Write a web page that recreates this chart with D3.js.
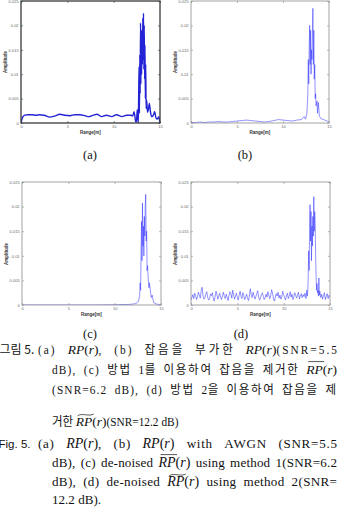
<!DOCTYPE html>
<html>
<head>
<meta charset="utf-8">
<script src="https://cdn.jsdelivr.net/npm/d3@7"></script>
<style>
  html, body { margin: 0; padding: 0; background: #fff; overflow: hidden; }
  svg { display: block; }
</style>
</head>
<body>
<div id="chart"></div>
<script>
/* Axis ticks (shared by the four panels) */
var xTicks = [0, 5, 10, 15];
var xTickLabels = ['0', '5', '10', '15'];
var yTicks = [0, 0.005, 0.01, 0.015, 0.02, 0.025];
var yTickLabels = ['0', '0.005', '0.01', '0.015', '0.02', '0.025'];

/* (a) RP(r) */
var rangeA = [0, 0.15, 0.4, 0.8, 1.2, 1.6, 2.0, 2.5, 3.1, 3.6,
  4.2, 4.7, 5.3, 5.8, 6.4, 6.9, 7.3, 7.8, 8.2, 8.7,
  9.2, 9.8, 10.3, 10.9, 11.4, 11.9, 12.05, 12.2, 12.38, 12.45,
  12.55, 12.62, 12.66, 12.70, 12.74, 12.78, 12.82, 12.86, 12.90, 12.94,
  12.98, 13.02, 13.06, 13.10, 13.14, 13.18, 13.22, 13.26, 13.30, 13.34,
  13.38, 13.42, 13.46, 13.50, 13.56, 13.65, 13.74, 13.85, 13.99, 14.14,
  14.28, 14.42, 14.57, 14.71, 14.86, 15.0];
var ampA = [0, 0.0011, 0.0016, 0.0017, 0.0017, 0.0016, 0.0017, 0.0016, 0.0012, 0.0014,
  0.0018, 0.0016, 0.0015, 0.0017, 0.0017, 0.0015, 0.0013, 0.0016, 0.0018, 0.0013,
  0.0016, 0.0013, 0.0017, 0.0013, 0.0016, 0.0016, 0.0014, 0.0023, 0.0003, 0.0002,
  0.0027, 0.0010, 0.0000, 0.0060, 0.0115, 0.0020, 0.0140, 0.0060, 0.0205, 0.0080,
  0.0190, 0.0100, 0.0175, 0.0120, 0.0215, 0.0130, 0.0225, 0.0110, 0.0200, 0.0090,
  0.0160, 0.0050, 0.0120, 0.0030, 0.0047, 0.0022, 0.0027, 0.0040, 0.0020, 0.0013,
  0.0016, 0.0023, 0.0010, 0.0008, 0.0013, 0.0000];

/* (b) */
var rangeB = [0, 0.5, 1.0, 1.5, 2.0, 2.5, 3.0, 3.5, 4.0, 4.5,
  5.0, 5.5, 6.0, 6.5, 7.0, 7.5, 8.0, 8.5, 9.0, 9.5,
  10.0, 10.5, 11.0, 11.5, 12.0, 12.3, 12.45, 12.6, 12.7, 12.75,
  12.8, 12.85, 12.9, 12.95, 13.0, 13.05, 13.1, 13.15, 13.2, 13.25,
  13.3, 13.35, 13.4, 13.45, 13.5, 13.55, 13.6, 13.7, 13.75, 13.85,
  13.95, 14.1, 14.4, 14.7, 14.9, 15.0];
var ampB = [0.0001, 0.0001, 0.0002, 0.0001, 0.0002, 0.0002, 0.0003, 0.0002, 0.0002, 0.0003,
  0.0004, 0.0005, 0.0006, 0.0005, 0.0004, 0.0003, 0.0002, 0.0003, 0.0005, 0.0007,
  0.0006, 0.0005, 0.0004, 0.0006, 0.0007, 0.0013, 0.0008, 0.0020, 0.0060, 0.0130,
  0.0080, 0.0160, 0.0200, 0.0120, 0.0190, 0.0100, 0.0150, 0.0130, 0.0190, 0.0235,
  0.0120, 0.0190, 0.0090, 0.0120, 0.0050, 0.0060, 0.0035, 0.0045, 0.0020, 0.0042,
  0.0015, 0.0009, 0.0007, 0.0005, 0.0003, 0.0002];

/* (c) */
var rangeC = [0, 2, 4, 6, 8, 10, 11.0, 11.5, 12.0, 12.3,
  12.5, 12.6, 12.7, 12.75, 12.8, 12.85, 12.9, 12.95, 13.0, 13.05,
  13.1, 13.15, 13.2, 13.25, 13.3, 13.35, 13.4, 13.45, 13.5, 13.55,
  13.6, 13.7, 13.75, 13.85, 13.95, 14.05, 14.2, 14.5, 14.8, 15.0];
var ampC = [0, 0, 0, 0, 0, 0.00005, 0.0001, 0.0001, 0.0002, 0.0003,
  0.0006, 0.0010, 0.0020, 0.0045, 0.0030, 0.0110, 0.0170, 0.0090, 0.0207, 0.0120,
  0.0160, 0.0100, 0.0180, 0.0140, 0.0200, 0.0225, 0.0130, 0.0150, 0.0070, 0.0080,
  0.0060, 0.0035, 0.0045, 0.0030, 0.0015, 0.0020, 0.0005, 0.0002, 0.0001, 0];

/* (d) noisy: baseline sampled every 0.1 m from 0 to 12.4 m */
var stepD = 0.1;
var noiseD = [0.0009, 0.0016, 0.0021, 0.0013, 0.0024, 0.0019, 0.0011, 0.0017, 0.0026, 0.0020,
  0.0014, 0.0029, 0.0036, 0.0018, 0.0012, 0.0015, 0.0023, 0.0027, 0.0016, 0.0010,
  0.0013, 0.0022, 0.0019, 0.0025, 0.0014, 0.0008, 0.0017, 0.0028, 0.0021, 0.0012,
  0.0018, 0.0024, 0.0015, 0.0011, 0.0020, 0.0026, 0.0017, 0.0013, 0.0022, 0.0016,
  0.0009, 0.0019, 0.0027, 0.0023, 0.0014, 0.0030, 0.0021, 0.0012, 0.0018, 0.0024,
  0.0015, 0.0010, 0.0020, 0.0028, 0.0017, 0.0013, 0.0025, 0.0019, 0.0011, 0.0016,
  0.0022, 0.0014, 0.0009, 0.0018, 0.0033, 0.0021, 0.0015, 0.0026, 0.0019, 0.0012,
  0.0017, 0.0023, 0.0029, 0.0016, 0.0010, 0.0014, 0.0021, 0.0025, 0.0018, 0.0011,
  0.0015, 0.0022, 0.0016, 0.0027, 0.0020, 0.0013, 0.0019, 0.0031, 0.0024, 0.0012,
  0.0008, 0.0016, 0.0023, 0.0018, 0.0026, 0.0014, 0.0020, 0.0012, 0.0017, 0.0028,
  0.0021, 0.0015, 0.0010, 0.0019, 0.0024, 0.0013, 0.0018, 0.0027, 0.0016, 0.0022,
  0.0011, 0.0017, 0.0025, 0.0019, 0.0014, 0.0020, 0.0026, 0.0012, 0.0018, 0.0023,
  0.0015, 0.0021, 0.0017, 0.0024, 0.0013];
var peakRangeD = [12.5, 12.55, 12.6, 12.65, 12.7, 12.75, 12.8, 12.85, 12.9, 12.95,
  13.0, 13.05, 13.1, 13.15, 13.2, 13.25, 13.3, 13.35, 13.4, 13.45,
  13.5, 13.55, 13.6, 13.65, 13.7, 13.75, 13.8, 13.85, 13.9];
var peakAmpD = [0.0030, 0.0018, 0.0026, 0.0060, 0.0110, 0.0070, 0.0160, 0.0204, 0.0130, 0.0190,
  0.0090, 0.0160, 0.0120, 0.0180, 0.0140, 0.0220, 0.0150, 0.0190, 0.0166, 0.0100,
  0.0060, 0.0030, 0.0044, 0.0025, 0.0030, 0.0018, 0.0055, 0.0020, 0.0028];
/* tail, every 0.1 m from 14.0 to 15.0 m */
var tailStartD = 14.0;
var tailD = [0.0015, 0.0022, 0.0012, 0.0019, 0.0025, 0.0011, 0.0018, 0.0023, 0.0013, 0.0020, 0.0016];

var rangeD = noiseD.map(function (v, i) { return i * stepD; })
  .concat(peakRangeD)
  .concat(tailD.map(function (v, i) { return tailStartD + i * stepD; }));
var ampD = noiseD.concat(peakAmpD).concat(tailD);

/* ------------------------------------------------------------------ */

var W = 339, H = 515;
var svg = d3.select('#chart').append('svg').attr('width', W).attr('height', H);

var panels = [
  { id: 'a', left: 21, right: 160, top: 1, bottom: 123, labelY: 62, r: rangeA, v: ampA, thick: true, cap: '(a)', capX: 90, capY: 158.5 },
  { id: 'b', left: 191, right: 329, top: 1, bottom: 123, labelY: 62, r: rangeB, v: ampB, cap: '(b)', capX: 245, capY: 158.5 },
  { id: 'c', left: 22, right: 161, top: 182, bottom: 305, labelY: 254, r: rangeC, v: ampC, cap: '(c)', capX: 90, capY: 338 },
  { id: 'd', left: 191, right: 330, top: 182, bottom: 305, labelY: 254, r: rangeD, v: ampD, cap: '(d)', capX: 241, capY: 338 }
];

panels.forEach(drawPanel);

function drawPanel(p) {
  var x = d3.scaleLinear().domain([0, 15]).range([p.left, p.right]);
  var y = d3.scaleLinear().domain([0, 0.025]).range([p.bottom, p.top]);
  var frame = p.thick ? '#3a3a3a' : '#8c8c8c';
  var g = svg.append('g').attr('class', 'panel-' + p.id);

  g.append('clipPath').attr('id', 'clip-' + p.id)
    .append('rect')
    .attr('x', p.left).attr('y', p.top)
    .attr('width', p.right - p.left).attr('height', p.bottom - p.top);

  var line = d3.line()
    .x(function (d, i) { return x(p.r[i]); })
    .y(function (d) { return y(d); })
    .curve(p.thick ? d3.curveMonotoneX : d3.curveLinear);

  g.append('path')
    .datum(p.v)
    .attr('clip-path', 'url(#clip-' + p.id + ')')
    .attr('d', line)
    .attr('fill', 'none')
    .attr('stroke', p.thick ? '#2424d6' : '#2f2fff')
    .attr('stroke-opacity', p.thick ? 1 : 0.8)
    .attr('stroke-width', p.thick ? 1.4 : 0.65)
    .attr('stroke-linejoin', 'round');

  /* MATLAB style inward ticks on all four sides */
  var axes = [
    { a: d3.axisBottom(x).tickValues(xTicks).tickFormat(function (d, i) { return xTickLabels[i]; }), t: 'translate(0,' + p.bottom + ')' },
    { a: d3.axisTop(x).tickValues(xTicks).tickFormat(''), t: 'translate(0,' + p.top + ')' },
    { a: d3.axisLeft(y).tickValues(yTicks).tickFormat(function (d, i) { return yTickLabels[i]; }), t: 'translate(' + p.left + ',0)' },
    { a: d3.axisRight(y).tickValues(yTicks).tickFormat(''), t: 'translate(' + p.right + ',0)' }
  ];
  axes.forEach(function (ax) {
    var ag = g.append('g')
      .attr('transform', ax.t)
      .call(ax.a.tickSize(-2).tickPadding(2.4));
    ag.select('.domain').remove();
    ag.attr('font-size', null).attr('font-family', null);
    ag.selectAll('.tick line').attr('stroke', frame).attr('stroke-width', 0.6);
    ag.selectAll('.tick text')
      .attr('fill', '#666')
      .attr('font-size', '4px')
      .attr('font-family', '"Liberation Sans", Arial, sans-serif');
  });

  g.append('rect')
    .attr('x', p.left).attr('y', p.top)
    .attr('width', p.right - p.left).attr('height', p.bottom - p.top)
    .attr('fill', 'none')
    .attr('stroke', frame)
    .attr('stroke-width', p.thick ? 1.3 : 0.8);

  g.append('text')
    .attr('transform', 'translate(' + (p.left - 16) + ',' + p.labelY + ') rotate(-90)')
    .attr('text-anchor', 'middle')
    .attr('dy', '0.35em')
    .attr('font-family', '"Liberation Sans", Arial, sans-serif')
    .attr('font-size', '4.5px')
    .attr('font-weight', 'bold')
    .attr('fill', '#333')
    .text('Amplitude');

  g.append('text')
    .attr('x', (p.left + p.right) / 2)
    .attr('y', p.bottom + 11)
    .attr('text-anchor', 'middle')
    .attr('font-family', '"Liberation Sans", Arial, sans-serif')
    .attr('font-size', '4.5px')
    .attr('font-weight', 'bold')
    .attr('fill', '#333')
    .text('Range[m]');

  svg.append('text')
    .attr('x', p.capX).attr('y', p.capY)
    .attr('text-anchor', 'middle')
    .attr('font-family', '"Liberation Serif", "Times New Roman", serif')
    .attr('font-size', '12.5px')
    .attr('fill', '#111')
    .text(p.cap);
}

/* ------------------------------------------------------------------ */
/* Figure caption (Korean + English), justified like the printed page.
   Korean lines use a narrower Latin face than the English lines.       */

var capFont = {
  hko: { family: '"Noto Sans CJK KR", sans-serif', size: 12, sx: 1 },
  hen: { family: '"Liberation Sans", Arial, sans-serif', size: 11.5, sx: 1 },
  ko:  { family: '"Noto Sans CJK KR", sans-serif', size: 12.5, sx: 0.92, gap: 0.3 },
  rk:  { family: '"Liberation Serif", serif', size: 13.5, sx: 0.84, gap: 0.2 },
  itk: { family: '"Liberation Serif", serif', size: 13.5, sx: 1, style: 'italic' },
  upk: { family: '"Liberation Serif", serif', size: 13.5, sx: 1 },
  rm:  { family: '"Liberation Serif", serif', size: 13.5, sx: 0.97, gap: 0.08 },
  it:  { family: '"Liberation Serif", serif', size: 14, sx: 1, style: 'italic' },
  up:  { family: '"Liberation Serif", serif', size: 14, sx: 1 }
};
var FONT_SWITCH_PAD = 0.6;   /* small gap where two faces meet without a space */

function rp(acc, k) {
  var it = k ? 'itk' : 'it', up = k ? 'upk' : 'up';
  return [['RP', it, acc], ['(', up], ['r', it], [')', up]];
}

var capLines = [
  { x0: -0.5, y: 354, segs: [['그림 5.', 'hko']] },
  { x0: 38, x1: 337, y: 354, justify: true, segs: [['(a) ', 'rk']].concat(rp(null, 1), [[', (b) ', 'rk'], ['잡음을 부가한 ', 'ko']], rp(null, 1), [['(SNR=5.5', 'rk']]) },
  { x0: 52, x1: 337, y: 374, justify: true, segs: [['dB), (c) ', 'rk'], ['방법 ', 'ko'], ['1', 'rk'], ['를 이용하여 잡음을 제거한 ', 'ko']].concat(rp('bar', 1)) },
  { x0: 52, x1: 336, y: 394, justify: true, segs: [['(SNR=6.2 dB), (d) ', 'rk'], ['방법 ', 'ko'], ['2', 'rk'], ['을 이용하여 잡음을 제', 'ko']] },
  { x0: 52, y: 426, segs: [['거한 ', 'ko']].concat(rp('tilde', 1), [['(SNR=12.2 dB)', 'rk']]) },
  { x0: -1.5, y: 448, segs: [['Fig. 5.', 'hen']] },
  { x0: 38, x1: 337, y: 448, justify: true, segs: [['(a) ', 'rm']].concat(rp(), [[', (b) ', 'rm']], rp(), [[' with AWGN (SNR=5.5', 'rm']]) },
  { x0: 52, x1: 337, y: 467, justify: true, segs: [['dB), (c) de-noised ', 'rm']].concat(rp('bar'), [[' using method 1(SNR=6.2', 'rm']]) },
  { x0: 52, x1: 337, y: 486, justify: true, segs: [['dB), (d) de-noised ', 'rm']].concat(rp('tilde'), [[' using method 2(SNR=', 'rm']]) },
  { x0: 52, y: 504, segs: [['12.2 dB).', 'rm']] }
];

var capG = svg.append('g').attr('class', 'caption');
var spaceCache = {};
capLines.forEach(layoutLine);

function styled(sel, f) {
  return sel
    .attr('font-family', f.family)
    .attr('font-size', f.size + 'px')
    .attr('font-style', f.style || 'normal')
    .attr('fill', '#111')
    .style('white-space', 'pre');
}

function spaceWidth(key) {
  if (spaceCache[key] != null) return spaceCache[key];
  var f = capFont[key];
  var a = styled(capG.append('text'), f).text('n n');
  var b = styled(capG.append('text'), f).text('nn');
  var w = (a.node().getComputedTextLength() - b.node().getComputedTextLength()) * f.sx;
  a.remove(); b.remove();
  spaceCache[key] = w;
  return w;
}

/* Justify: extra room goes to word spaces (weight 1) and, less, to letter gaps */
function layoutLine(L) {
  var toks = [];
  var prevKind = null;
  L.segs.forEach(function (s) {
    var f = capFont[s[1]];
    s[0].split(/( )/).forEach(function (piece) {
      if (piece === '') return;
      if (piece === ' ') { toks.push({ space: true, w: spaceWidth(s[1]) }); prevKind = null; return; }
      var pad = (prevKind && (prevKind === 'ko') !== (s[1] === 'ko')) ? FONT_SWITCH_PAD : 0;
      var t = styled(capG.append('text'), f).text(piece);
      toks.push({ t: t, f: f, w: t.node().getComputedTextLength() * f.sx, n: piece.length, gap: f.gap || 0, acc: s[2], pad: pad });
      prevKind = s[1];
    });
  });
  var natural = d3.sum(toks, function (d) { return d.w + (d.pad || 0); });
  var weights = d3.sum(toks, function (d) { return d.space ? 1 : d.gap * (d.n - 1); });
  var unit = (L.justify && weights) ? (L.x1 - L.x0 - natural) / weights : 0;
  var cx = L.x0;
  toks.forEach(function (d) {
    if (d.space) { cx += d.w + unit; return; }
    cx += d.pad;
    var ls = unit * d.gap;
    d.t.style('letter-spacing', (ls / d.f.sx) + 'px')
      .attr('transform', 'translate(' + cx + ',' + L.y + ') scale(' + d.f.sx + ',1)');
    var w = d.w + (d.n - 1) * ls;
    if (d.acc) drawAccent(cx, cx + w, L.y, d.acc);
    cx += w;
  });
}

function drawAccent(xa, xb, base, kind) {
  var x0 = xa + 2, x1 = xb + 1.5;
  if (kind === 'bar') {
    capG.append('line')
      .attr('x1', x0).attr('x2', x1)
      .attr('y1', base - 12.4).attr('y2', base - 12.4)
      .attr('stroke', '#111').attr('stroke-width', 0.7);
  } else {
    var yy = base - 11.6, w = x1 - x0;
    capG.append('path')
      .attr('d', 'M' + x0 + ',' + (yy + 1.2) +
        ' C' + (x0 + w * 0.3) + ',' + (yy - 1.6) + ' ' + (x0 + w * 0.7) + ',' + (yy + 2.4) + ' ' + x1 + ',' + (yy - 0.4))
      .attr('fill', 'none')
      .attr('stroke', '#111').attr('stroke-width', 0.7);
  }
}
</script>
</body>
</html>
